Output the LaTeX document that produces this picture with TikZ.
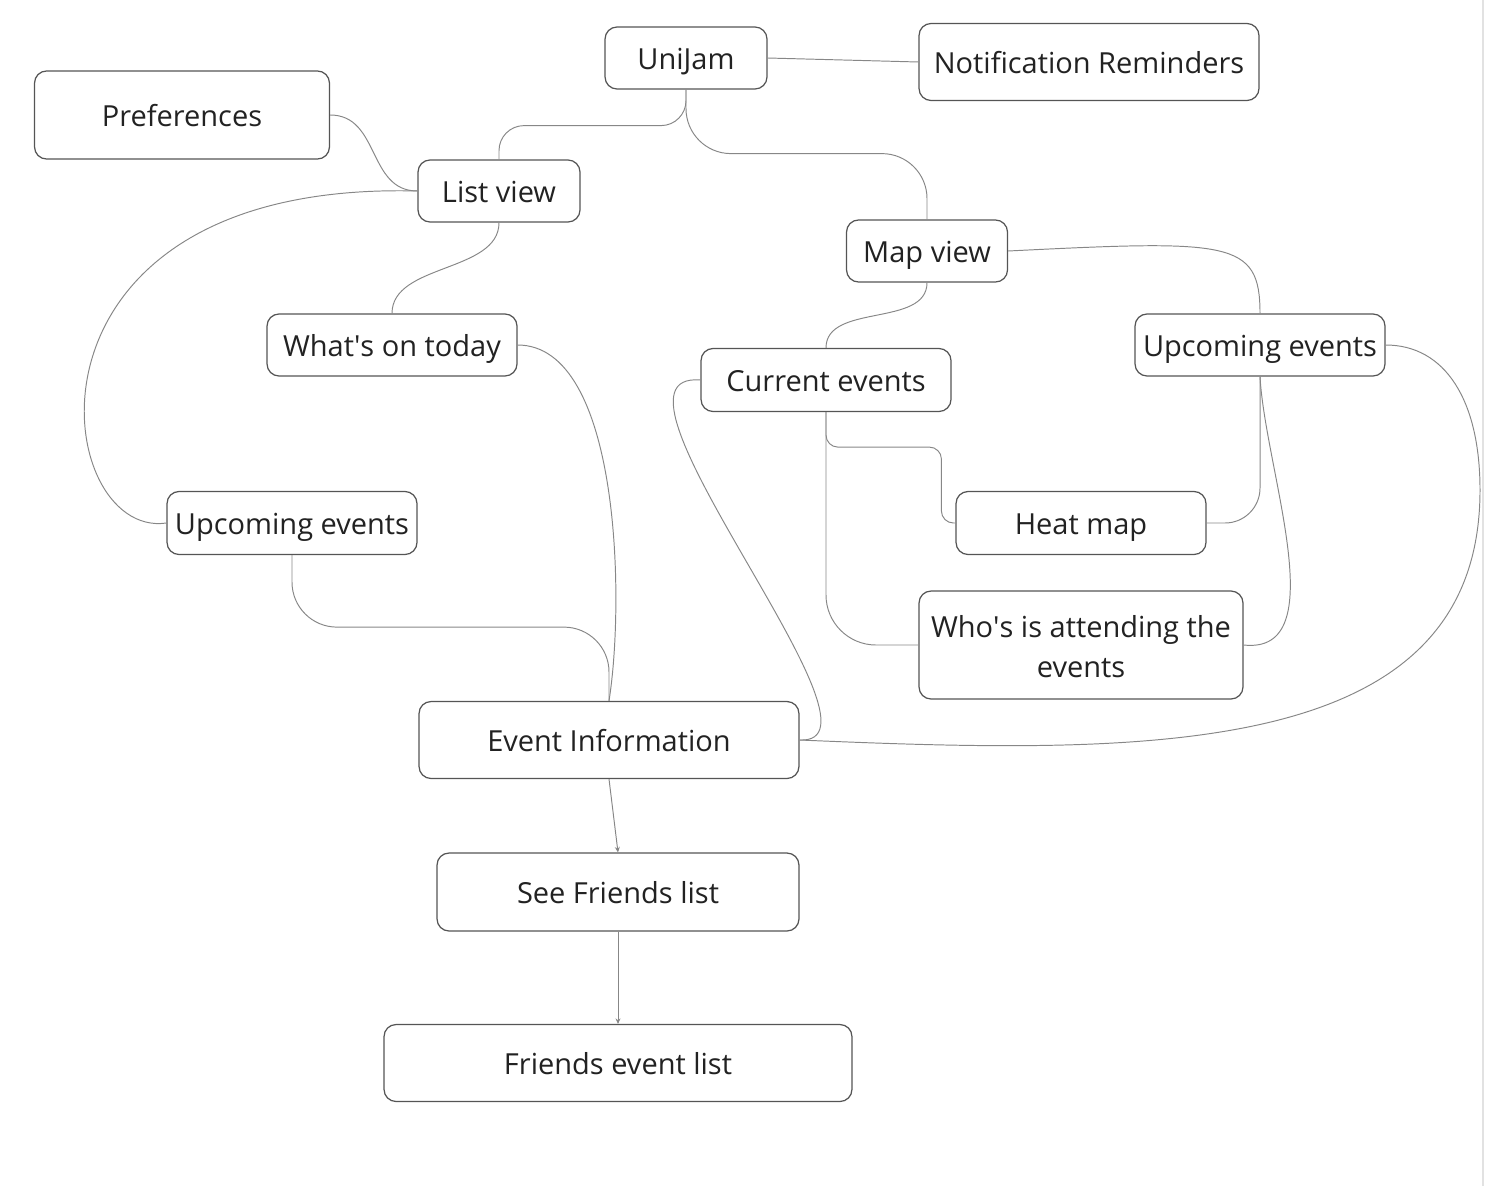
\documentclass[tikz,border=0pt]{standalone}
\usepackage{fontspec}
\setmainfont{Open Sans}
\usetikzlibrary{arrows.meta, positioning, calc}
\definecolor{boxgray}{RGB}{85,85,85}
\definecolor{linegray}{RGB}{135,135,135}
\definecolor{textdark}{RGB}{34,34,34}
\definecolor{edgegray}{RGB}{226,226,226}

\begin{document}
\begin{tikzpicture}[
    x=0.02cm, y=-0.02cm,
    card/.style={draw=boxgray, line width=0.7pt, rounded corners=0.24cm, fill=white, minimum height=1.24cm, inner sep=0pt, align=center, text=textdark, text height=15pt, text depth=2.2pt, font=\fontsize{16.5}{22.8}\selectfont},
    link/.style={draw=linegray, line width=0.55pt},
    >={Stealth[length=1.1mm, width=1mm]}
]
  \useasboundingbox (0,0) rectangle (1486,1186);
  \draw[edgegray, line width=1.6pt] (1483,0) -- (1483,1186);

  \node[card, minimum width=3.24cm] (unijam) at (686,58) {UniJam};
  \node[card, minimum width=6.8cm, minimum height=1.54cm] (notif) at (1089,62) {Notification Reminders};
  \node[card, minimum width=5.9cm, minimum height=1.76cm] (pref) at (182,115) {Preferences};
  \node[card, minimum width=3.24cm] (listview) at (499,191) {List view};
  \node[card, minimum width=3.22cm] (mapview) at (927,251) {Map view};
  \node[card, minimum width=5cm] (whatson) at (392,345) {What\textquotesingle s on today};
  \node[card, minimum width=5cm, minimum height=1.26cm] (current) at (826,380) {Current events};
  \node[card, minimum width=5cm] (upright) at (1260,345) {Upcoming events};
  \node[card, minimum width=5cm, minimum height=1.26cm] (upleft) at (292,523) {Upcoming events};
  \node[card, minimum width=5cm, minimum height=1.26cm] (heatmap) at (1081,523) {Heat map};
  \node[card, minimum width=6.48cm, minimum height=2.16cm, text height=39pt] (whos) at (1081,645) {Who\textquotesingle s is attending the\\events};
  \node[card, minimum width=7.6cm, minimum height=1.54cm] (eventinfo) at (609,740) {Event Information};
  \node[card, minimum width=7.24cm, minimum height=1.56cm] (seefriends) at (618,892) {See Friends list};
  \node[card, minimum width=9.36cm, minimum height=1.54cm] (friendsevents) at (618,1063) {Friends event list};

  % top of the tree
  \draw[link] (unijam.east) -- (notif.west);
  \draw[link, rounded corners=0.5cm] (unijam.south) -- ++(0,36) -| (listview.north);
  \draw[link, rounded corners=0.9cm] (unijam.south) -- ++(0,64) -| (mapview.north);

  % list view branch
  \draw[link] (pref.east) .. controls +(50,0) and +(-50,0) .. (listview.west);
  \draw[link] (listview.west) .. controls (0,180) and (50,540) .. (upleft.west);
  \draw[link] (listview.south) .. controls +(0,50) and +(0,-50) .. (whatson.north);
  \draw[link] (whatson.east) .. controls (620,345) and (625,600) .. (eventinfo.north);
  \draw[link, rounded corners=0.9cm] (upleft.south) -- ++(0,72) -| (eventinfo.north);

  % map view branch
  \draw[link] (mapview.south) .. controls +(0,45) and +(0,-45) .. (current.north);
  \draw[link] (mapview.east) .. controls (1230,240) and (1260,240) .. (upright.north);
  \draw[link] (current.west) .. controls (580,370) and (905,745) .. (eventinfo.east);
  \draw[link, rounded corners=0.24cm] (current.south) -- ++(0,35) -| ($(heatmap.west)+(-14,0)$) -- (heatmap.west);
  \draw[link, rounded corners=1cm] (current.south) |- (whos.west);
  \draw[link, rounded corners=0.7cm] (upright.south) |- (heatmap.east);
  \draw[link] (upright.south) .. controls (1265,470) and (1335,655) .. (whos.east);
  \draw[link] (upright.east) .. controls (1445,345) and (1480,400) .. (1480,490)
    .. controls (1480,760) and (1150,755) .. (eventinfo.east);

  % friends
  \draw[link, ->] (eventinfo.south) -- (seefriends.north);
  \draw[link, ->] (seefriends.south) -- (friendsevents.north);
\end{tikzpicture}
\end{document}
